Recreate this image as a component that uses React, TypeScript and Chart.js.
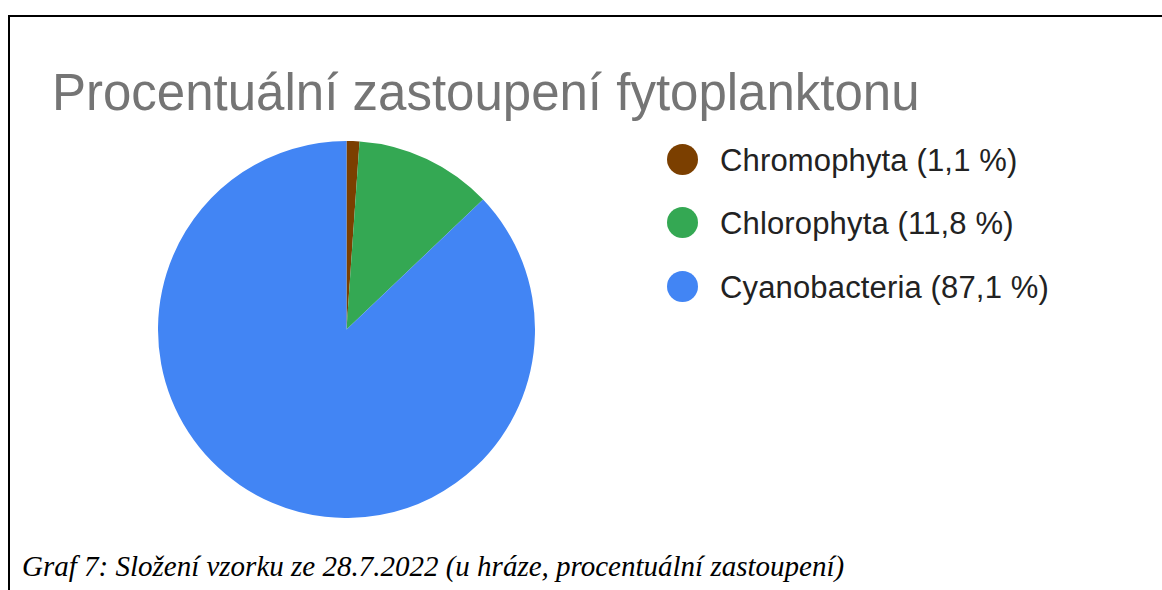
import React, { useEffect, useRef } from "react";
import { Chart, registerables } from "chart.js";

Chart.register(...registerables);

const titleText = "Procentuální zastoupení fytoplanktonu";
const captionText = "Graf 7: Složení vzorku ze 28.7.2022 (u hráze, procentuální zastoupení)";
const categories = ["Chromophyta", "Chlorophyta", "Cyanobacteria"];
const values = [1.1, 11.8, 87.1];
const colors = ["#7b3f00", "#34a853", "#4285f4"];
const legendLabels = ["Chromophyta (1,1 %)", "Chlorophyta (11,8 %)", "Cyanobacteria (87,1 %)"];

export default function App() {
  const ref = useRef<HTMLCanvasElement | null>(null);
  useEffect(() => {
    document.body.style.margin = "0";
    const chart = new Chart(ref.current!, {
      type: "pie",
      data: {
        labels: categories,
        datasets: [
          {
            data: values,
            backgroundColor: colors,
            borderWidth: 0,
          },
        ],
      },
      options: {
        animation: false,
        responsive: false,
        layout: { padding: 0 },
        plugins: { legend: { display: false }, tooltip: { enabled: false } },
      },
    });
    return () => chart.destroy();
  }, []);

  const sans = "'Liberation Sans', Arial, sans-serif";
  return (
    <div style={{ position: "absolute", left: 0, top: 0, width: 1162, height: 590, background: "#fff", overflow: "hidden" }}>
      <div style={{ position: "absolute", left: 8, top: 15, width: 1154, height: 2, background: "#000" }} />
      <div style={{ position: "absolute", left: 8, top: 15, width: 2, height: 575, background: "#000" }} />
      <div
        style={{
          position: "absolute",
          left: 52,
          top: 67,
          font: `51px ${sans}`,
          lineHeight: "51px",
          color: "#757575",
          whiteSpace: "nowrap",
        }}
      >
        {titleText}
      </div>
      <canvas ref={ref} width={377} height={377} style={{ position: "absolute", left: 158, top: 141, width: 377, height: 377 }} />
      {legendLabels.map((l, i) => (
        <div key={l}>
          <div
            style={{
              position: "absolute",
              left: 667,
              top: 144 + i * 63.5 - 0.5,
              width: 31,
              height: 31,
              borderRadius: "50%",
              background: colors[i],
            }}
          />
          <div
            style={{
              position: "absolute",
              left: 720,
              top: 145 + i * 63.5 - 0.5,
              font: `31px ${sans}`,
              lineHeight: "31px",
              letterSpacing: "0.15px",
              color: "#222",
              whiteSpace: "nowrap",
            }}
          >
            {l}
          </div>
        </div>
      ))}
      <div
        style={{
          position: "absolute",
          left: 22,
          top: 551,
          font: `italic 29px 'Liberation Serif', 'Times New Roman', serif`,
          lineHeight: "30px",
          color: "#000",
          whiteSpace: "nowrap",
        }}
      >
        {captionText}
      </div>
    </div>
  );
}
